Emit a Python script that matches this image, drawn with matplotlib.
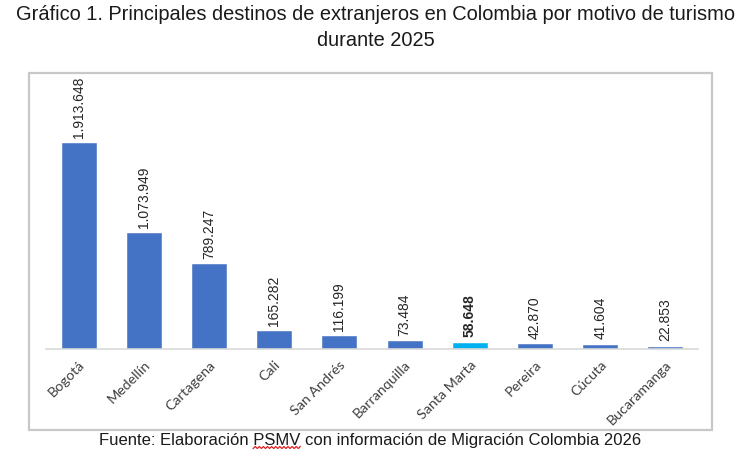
import numpy as np
import matplotlib
matplotlib.use("Agg")
import matplotlib.pyplot as plt
from matplotlib.patches import Rectangle

# data
destinos = ["Bogotá", "Medellín", "Cartagena", "Cali", "San Andrés",
            "Barranquilla", "Santa Marta", "Pereira", "Cúcuta", "Bucaramanga"]
viajeros = [1913648, 1073949, 789247, 165282, 116199,
            73484, 58648, 42870, 41604, 22853]
destacado = "Santa Marta"

AZUL = "#4472C4"
CIAN = "#00B0F0"
FUENTE = "Liberation Sans"


def fmt_miles(v):
    return f"{v:,}".replace(",", ".")


fig = plt.figure(figsize=(7.52, 4.57), dpi=100)
ax = fig.add_axes([46 / 752, 1 - 349 / 457, 652 / 752, 269 / 457])

# gray frame around the chart area
fig.patches.append(Rectangle((29 / 752, 1 - 430 / 457), 683 / 752, 357 / 457,
                             transform=fig.transFigure, fill=False,
                             edgecolor="#C8C8C8", linewidth=1.6))

x = np.arange(len(destinos))
colores = [CIAN if d == destacado else AZUL for d in destinos]
ax.bar(x, viajeros, width=0.52, color=colores, edgecolor=colores, linewidth=0.4)

for xi, d, v in zip(x, destinos, viajeros):
    ax.annotate(fmt_miles(v), (xi, v), xytext=(0, 4), textcoords="offset points",
                rotation=90, ha="center", va="bottom", fontsize=10,
                family=FUENTE, color="#262626",
                fontweight="bold" if d == destacado else "normal")

ax.set_xlim(-0.5, len(destinos) - 0.5)
ax.set_ylim(0, 2500000)
ax.set_yticks([])
ax.set_xticks(x)
ax.set_xticklabels(destinos, rotation=45, ha="right", rotation_mode="anchor",
                   fontsize=10.3, family="Lato", color="#404040")
ax.tick_params(axis="x", length=0, pad=7)
for s in ["top", "right", "left"]:
    ax.spines[s].set_visible(False)
ax.spines["bottom"].set_color("#D9D9D9")
ax.spines["bottom"].set_linewidth(1.2)

fig.text(0.5, 1 - 14 / 457,
         "Gráfico 1. Principales destinos de extranjeros en Colombia por motivo de turismo",
         ha="center", va="center", fontsize=14.4, family=FUENTE, color="#1a1a1a")
fig.text(0.5, 1 - 40 / 457, "durante 2025",
         ha="center", va="center", fontsize=14.4, family=FUENTE, color="#1a1a1a")

pre = "Fuente: Elaboración "
pie = fig.text(370 / 752, 1 - 440 / 457,
               "Fuente: Elaboración PSMV con información de Migración Colombia 2026",
               ha="center", va="center", fontsize=12, family=FUENTE,
               color="#1a1a1a")

# red spell-check squiggle under "PSMV"
fig.canvas.draw()
r = fig.canvas.get_renderer()
bb = pie.get_window_extent(r)
t1 = fig.text(0, 0, pre, fontsize=12, family=FUENTE)
t2 = fig.text(0, 0, "PSMV", fontsize=12, family=FUENTE)
w1 = t1.get_window_extent(r).width
w2 = t2.get_window_extent(r).width
t1.remove()
t2.remove()
n = int(w2 / 2) + 1
xs = np.linspace(bb.x0 + w1, bb.x0 + w1 + w2, n)
ys = bb.y0 - 1 + 2.0 * (np.arange(n) % 2)
fig.add_artist(plt.Line2D(xs / 752, ys / 457, transform=fig.transFigure,
                          color="#E02020", linewidth=0.9))

fig.savefig("out.png", dpi=100)
